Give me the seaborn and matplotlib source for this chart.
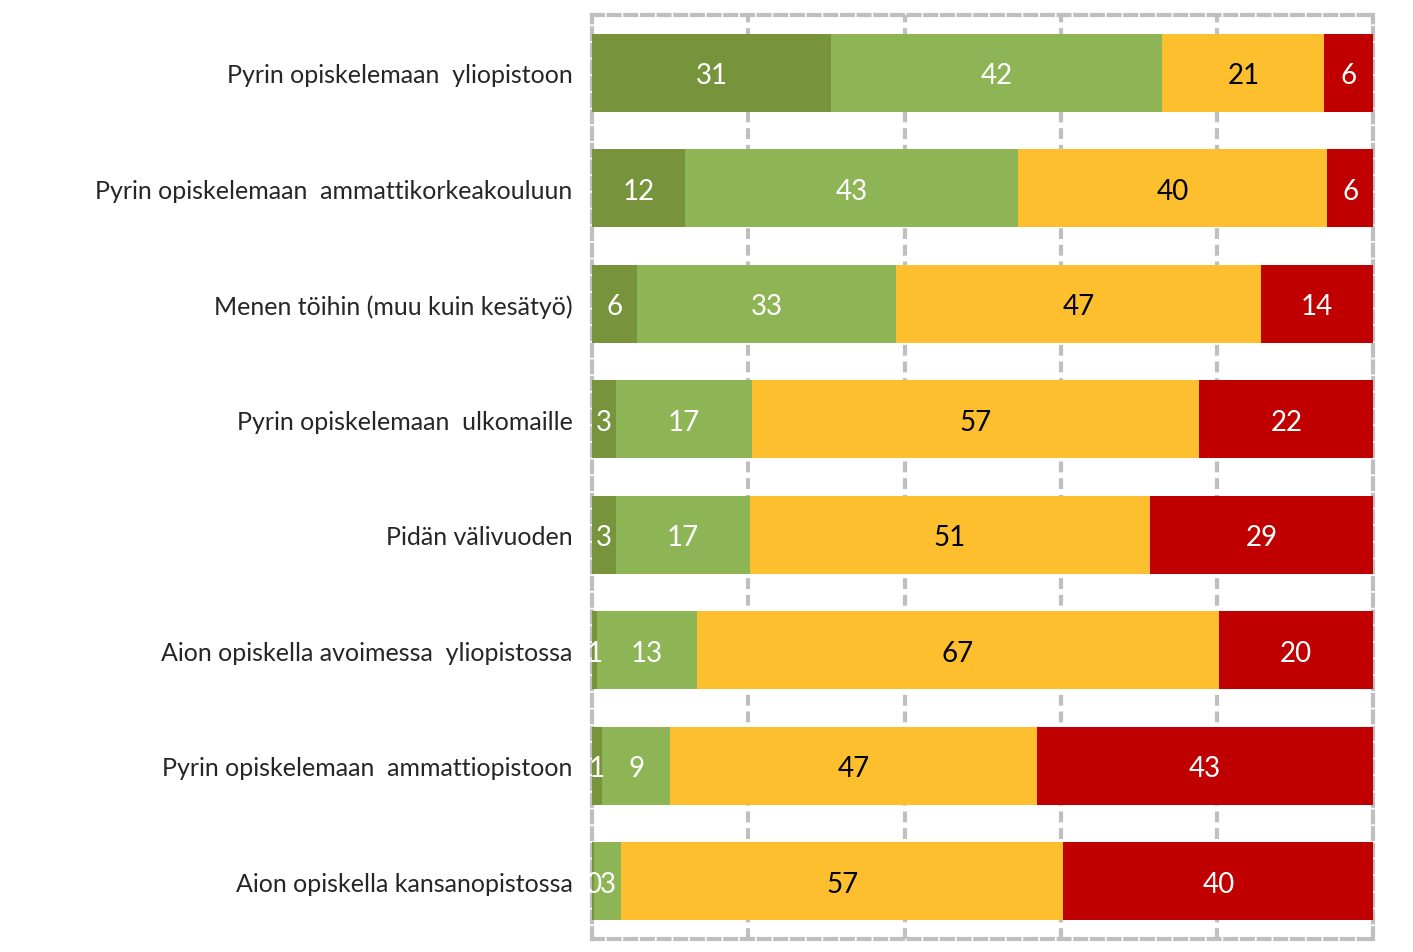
import pandas as pd
import matplotlib
matplotlib.use("Agg")
import matplotlib.pyplot as plt
import seaborn as sns

# Dati: quote percentuali per ciascuna affermazione
kysymykset = [
    "Pyrin opiskelemaan  yliopistoon",
    "Pyrin opiskelemaan  ammattikorkeakouluun",
    "Menen töihin (muu kuin kesätyö)",
    "Pyrin opiskelemaan  ulkomaille",
    "Pidän välivuoden",
    "Aion opiskella avoimessa  yliopistossa",
    "Pyrin opiskelemaan  ammattiopistoon",
    "Aion opiskella kansanopistossa",
]
varmasti = [30.6, 11.9, 5.8, 3.1, 3.1, 0.6, 1.3, 0.3]
todennakoisesti = [42.4, 42.6, 33.1, 17.4, 17.1, 12.8, 8.7, 3.4]
tuskin = [20.7, 39.6, 46.7, 57.2, 51.2, 66.8, 46.9, 56.6]
ei_varmasti = [6.3, 5.9, 14.4, 22.3, 28.6, 19.8, 43.1, 39.7]

sarjat = [varmasti, todennakoisesti, tuskin, ei_varmasti]
varit = ["#77933C", "#8EB555", "#FDBF2D", "#C00000"]
tekstivarit = ["white", "white", "black", "white"]

df = pd.DataFrame({"kysymys": kysymykset})
kumul = [0.0] * len(kysymykset)
kumulatiiviset = []
for s in sarjat:
    kumul = [a + b for a, b in zip(kumul, s)]
    kumulatiiviset.append(kumul)

sns.set_theme(style="white")
plt.rcParams["font.family"] = ["Lato", "DejaVu Sans"]

fig = plt.figure(figsize=(14.13, 9.53), dpi=100)
ax = fig.add_axes([0.419, 0.0136, 0.553, 0.9694])

# Pinotut palkit: piirretään kumulatiiviset summat takaperin
for i in range(len(sarjat) - 1, -1, -1):
    df["arvo"] = kumulatiiviset[i]
    sns.barplot(data=df, x="arvo", y="kysymys", color=varit[i], saturation=1,
                width=0.675, linewidth=0, ax=ax, zorder=2)

# Arvotunnisteet segmenttien keskelle
for i, s in enumerate(sarjat):
    for j, v in enumerate(s):
        keski = kumulatiiviset[i][j] - v / 2
        ax.text(keski, j + 0.02, f"{v:.0f}", ha="center", va="center",
                fontsize=20, color=tekstivarit[i], zorder=5)

ax.set_xlim(0, 100)
ax.set_ylim(len(kysymykset) - 0.5, -0.5)
ax.set_xlabel("")
ax.set_ylabel("")
ax.set_xticks([20, 40, 60, 80])
ax.set_xticklabels([])
ax.tick_params(axis="both", length=0)
ax.tick_params(axis="y", labelsize=18, pad=14)

ax.set_axisbelow(True)
viiva = (0, (2.6, 1.4))
ax.grid(axis="x", color="#BFBFBF", linewidth=3, linestyle=viiva)
ax.grid(axis="y", visible=False)
for sp in ax.spines.values():
    sp.set_visible(True)
    sp.set_color("#BFBFBF")
    sp.set_linewidth(3)
    sp.set_linestyle(viiva)
    sp.set_zorder(1)

plt.savefig("out.png", dpi=100)
